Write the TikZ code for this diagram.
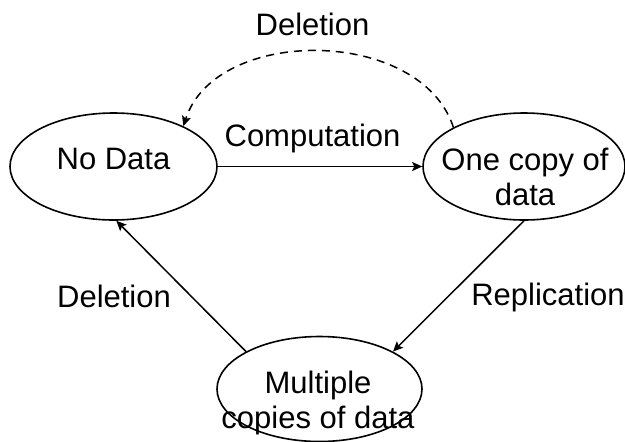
\documentclass[tikz,border=0pt]{standalone}
\usepackage{fontspec}
\setmainfont{Liberation Sans}
\usetikzlibrary{positioning,shapes.geometric,arrows.meta}

\begin{document}
\begin{tikzpicture}[x=0.5pt,y=0.5pt,font=\fontsize{15.5}{17.5}\selectfont]
            \useasboundingbox (0,0) rectangle (625,441);
            \begin{scope}[every node/.style={ellipse,draw,line width=0.8pt,inner sep=0pt}]
                \node[minimum width=103.5pt,minimum height=53.5pt] (nodata) at (113.5,274.5) {};
                \node[minimum width=101pt,minimum height=53.5pt] (one) at (524,274.5) {};
                \node[minimum width=102.5pt,minimum height=52.5pt] (multi) at (319.5,52) {};
            \end{scope}

            \begin{scope}[every node/.style={align=center,anchor=base,inner sep=0pt}]
                \node (nodatatext) at (113.5,271.5) {No Data};
                \node (onetext) at (525,236) {One copy of\\data};
                \node (multitext) at (318,13) {Multiple\\copies of data};
                \node (deltop) at (312.5,406) {Deletion};
                \node (comp) at (312.5,295) {Computation};
                \node (delleft) at (114,134) {Deletion};
                \node (repl) at (548,136) {Replication};
            \end{scope}

            \begin{scope}[>={Stealth[black,length=5pt,width=4.5pt,inset=1pt]},
                          every edge/.style={draw=black,line width=0.75pt}]
                \path [->] (nodata) edge (one);
                \path [->] (one.south) edge (multi.27);
                \path [->] (multi.153) edge (nodata.-87);
                \path [->] (one.151) edge[dash pattern=on 4pt off 3pt,out=108,in=72] (nodata.30);
            \end{scope}
        \end{tikzpicture}
\end{document}
